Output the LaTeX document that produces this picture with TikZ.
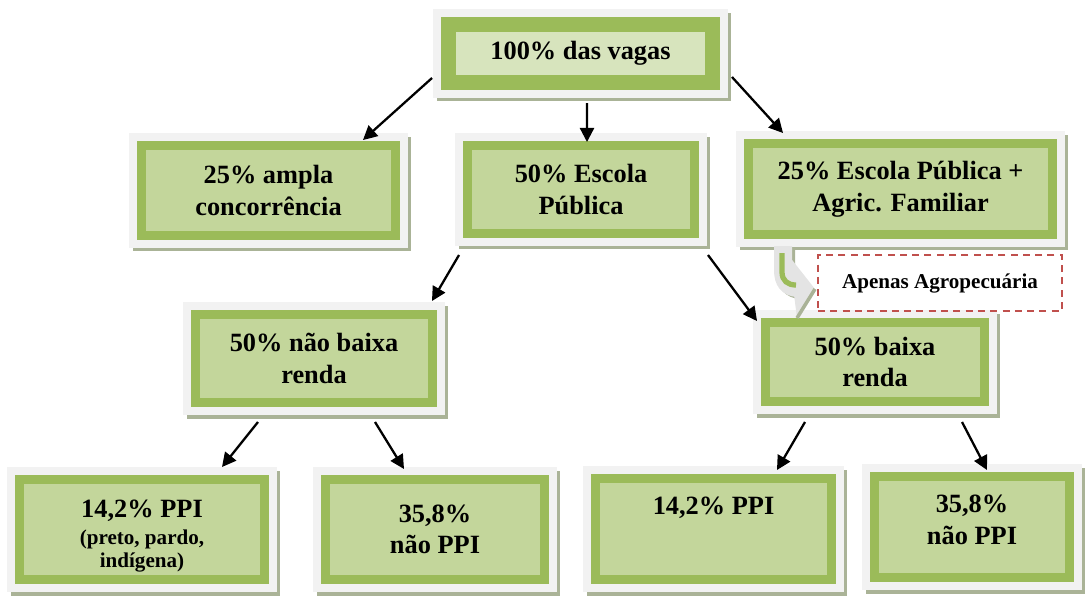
\documentclass[tikz,border=0pt]{standalone}
\usepackage{fontspec}
\setmainfont{Liberation Serif}
\usetikzlibrary{arrows.meta}

\definecolor{verdeforte}{HTML}{9BBB59}
\definecolor{verdeclaro}{HTML}{C3D69B}
\definecolor{verdetopo}{HTML}{D7E4BD}
\definecolor{cinzaborda}{HTML}{F2F2F2}
\definecolor{cinzaclaro}{HTML}{E4E4E4}
\definecolor{sombra}{HTML}{AAB397}
\definecolor{vermelho}{HTML}{C0504D}

\tikzset{
  caixa/.style={rectangle, inner sep=0pt, outer sep=0pt, align=center, fill=verdeclaro,
    draw=verdeforte, line width=#1,
    preaction={draw=sombra, line width=#1+0.32cm,
      transform canvas={shift={(0.07cm,-0.07cm)}}},
    preaction={draw=cinzaborda, line width=#1+0.32cm},
    font=\fontsize{15}{18}\selectfont\bfseries},
  caixa/.default=0.18cm,
  seta/.style={-{Triangle[length=8pt,width=8pt]}, line width=1.3pt},
}

\begin{document}
\begin{tikzpicture}[x=0.02cm, y=-0.02cm]
\useasboundingbox (0,0) rectangle (1087,596);

% Nivel 1
\node [caixa=0.3cm, fill=verdetopo, minimum width=5.28cm, minimum height=1.16cm] (topo) at (580.5,53.5) {100\% das vagas};

% Nivel 2
\node [caixa, minimum width=5.08cm, minimum height=1.80cm] (ampla) at (268.5,190.5) {25\% ampla\\concorrência};
\node [caixa, minimum width=4.54cm, minimum height=1.76cm] (escola) at (581,189.5) {50\% Escola\\Pública};
\node [caixa, minimum width=6.08cm, minimum height=1.82cm] (agric) at (900.5,189) {25\% Escola Pública +\\Agric. Familiar};

% Nivel 3
\node [caixa, minimum width=4.74cm, minimum height=1.76cm] (nbaixa) at (314,358.5) {50\% não baixa\\renda};
\node [caixa, minimum width=4.38cm, minimum height=1.58cm] (baixa) at (875,362) {50\% baixa\\renda};

% Nivel 4
\node [caixa, minimum width=4.90cm, minimum height=2.00cm] (ppiA) at (142,529.5) {\rule{0pt}{17pt}14,2\% PPI\\[-2.6pt]{\fontsize{12}{13}\selectfont (preto, pardo,}\\[-5pt]{\fontsize{12}{13}\selectfont indígena)}};
\node [caixa, minimum width=4.38cm, minimum height=2.00cm] (nppiA) at (435,529.5) {35,8\%\\não PPI};
\node [caixa, minimum width=4.72cm, minimum height=2.02cm, text height=10pt, text depth=26pt] (ppiB) at (713.5,529) {14,2\% PPI};
\node [caixa, minimum width=3.90cm, minimum height=2.02cm] (nppiB) at (972,527) {35,8\%\\não PPI\rule[-8pt]{0pt}{8pt}};

% Observacao
\node [draw=vermelho, dash pattern=on 4pt off 3pt, line width=1.1pt, minimum width=4.88cm, minimum height=1.12cm, font=\fontsize{12}{14}\selectfont\bfseries] (apenas) at (940,283) {Apenas Agropecuária};

% Seta curva
\draw [line width=0.36cm, sombra] (786,248) -- (786,272) .. controls (786,284) and (791,289) .. (800,290);
\draw [line width=0.36cm, cinzaclaro] (783,246) -- (783,270) .. controls (783,282) and (788,287) .. (797,288);
\fill [cinzaclaro] (789,256) -- (815,289) -- (797,318) -- cycle;
\draw [sombra, line width=2pt] (815,289) -- (797,318);
\draw [verdeforte, line width=3pt] (782,253) -- (782,272) .. controls (782,281) and (788,285) .. (796,285);

% Setas
\draw [seta] ([shift={(-16.5,-4.5)}]topo.south west) -- ([shift={(-32.5,-5.5)}]ampla.north east);
\draw [seta] ([shift={(6.5,20.5)}]topo.south) -- ([shift={(6,-3.5)}]escola.north);
\draw [seta] ([shift={(19.5,-5.5)}]topo.south east) -- ([shift={(34.5,-10.5)}]agric.north west);

\draw [seta] ([shift={(-8.5,21.5)}]escola.south west) -- ([shift={(-0.5,-13.5)}]nbaixa.north east);
\draw [seta] ([shift={(13.5,21.5)}]escola.south east) -- ([shift={(-8.5,-1.5)}]baixa.north west);

\draw [seta] ([shift={(-56,19.5)}]nbaixa.south) -- ([shift={(-42.5,-12.5)}]ppiA.north east);
\draw [seta] ([shift={(61,19.5)}]nbaixa.south) -- ([shift={(-31,-10.5)}]nppiA.north);
\draw [seta] ([shift={(-70,20.5)}]baixa.south) -- ([shift={(-54.5,-8.5)}]ppiB.north east);
\draw [seta] ([shift={(87,20.5)}]baixa.south) -- ([shift={(15,-6.5)}]nppiB.north);

\end{tikzpicture}
\end{document}
